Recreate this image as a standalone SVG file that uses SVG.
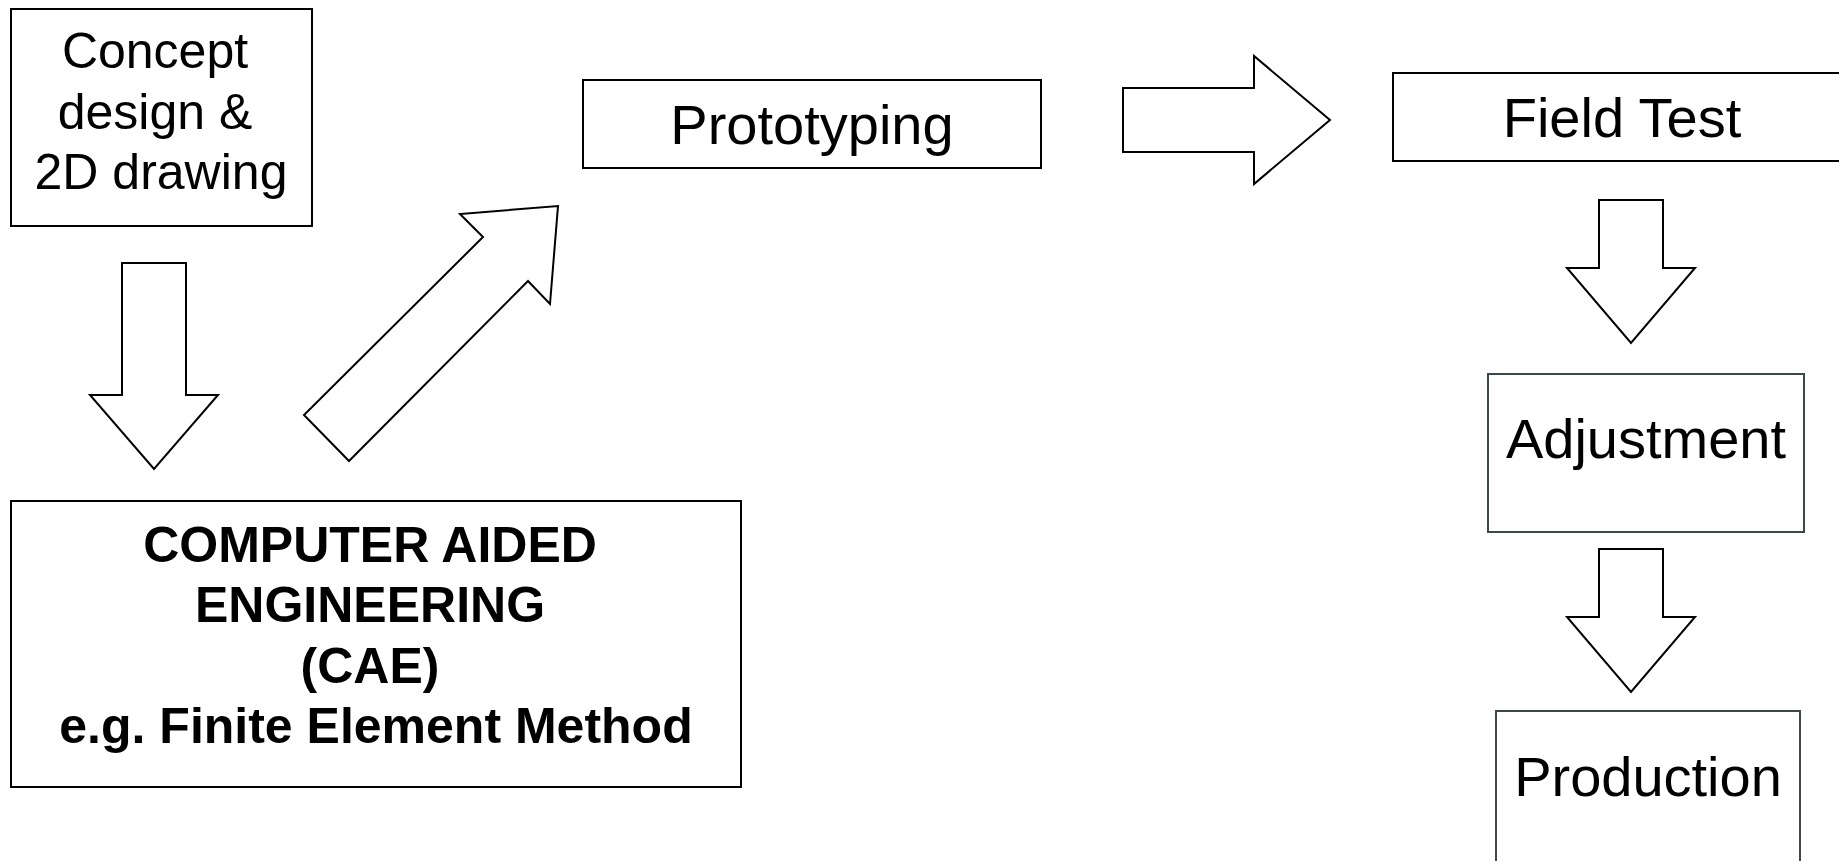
<svg xmlns="http://www.w3.org/2000/svg" width="1839" height="861" viewBox="0 0 1839 861">
<style>
.box{fill:#fff;stroke:#000;stroke-width:2}
.box2{fill:#fff;stroke:#3d484d;stroke-width:2}
.arr{fill:#fff;stroke:#000;stroke-width:2;stroke-linejoin:miter}
.t{font-family:"Liberation Sans",Arial,sans-serif;font-size:50px;fill:#000;text-anchor:middle}
.t56{font-size:56px}
.b{font-weight:bold}
</style>
<rect width="1839" height="861" fill="#fff"/>
<g id="connectors">
<polygon class="arr" points="122,263 186,263 186,395 218,395 154,469 90,395 122,395"/>
<polygon class="arr" points="304,415 349,461 528,281 550,304 558,206 460,214 483,237"/>
<polygon class="arr" points="1123,88 1254,88 1254,56 1330,120 1254,184 1254,152 1123,152"/>
<polygon class="arr" points="1599,200 1663,200 1663,268 1695,268 1631,343 1567,268 1599,268"/>
<polygon class="arr" points="1599,549 1663,549 1663,617 1695,617 1631,692 1567,617 1599,617"/>
</g>
<g id="concept">
<rect class="box" x="11" y="9" width="301" height="217"/>
<text class="t" x="155" y="68">Concept</text>
<text class="t" x="155" y="129">design &amp;</text>
<text class="t" x="161" y="189">2D drawing</text>
</g>
<g id="cae">
<rect class="box" x="11" y="501" width="730" height="286"/>
<text class="t b" x="370" y="562">COMPUTER AIDED</text>
<text class="t b" x="370" y="622">ENGINEERING</text>
<text class="t b" x="370" y="683">(CAE)</text>
<text class="t b" x="376" y="743">e.g. Finite Element Method</text>
</g>
<g id="prototyping">
<rect class="box" x="583" y="80" width="458" height="88"/>
<text class="t t56" x="812" y="144">Prototyping</text>
</g>
<g id="fieldtest">
<rect class="box" x="1393" y="73" width="460" height="88"/>
<text class="t t56" x="1622" y="137">Field Test</text>
</g>
<g id="adjustment">
<rect class="box2" x="1488" y="374" width="316" height="158"/>
<text class="t t56" x="1646" y="458">Adjustment</text>
</g>
<g id="production">
<rect class="box2" x="1496" y="711" width="304" height="170"/>
<text class="t t56" x="1648" y="796">Production</text>
</g>
</svg>
